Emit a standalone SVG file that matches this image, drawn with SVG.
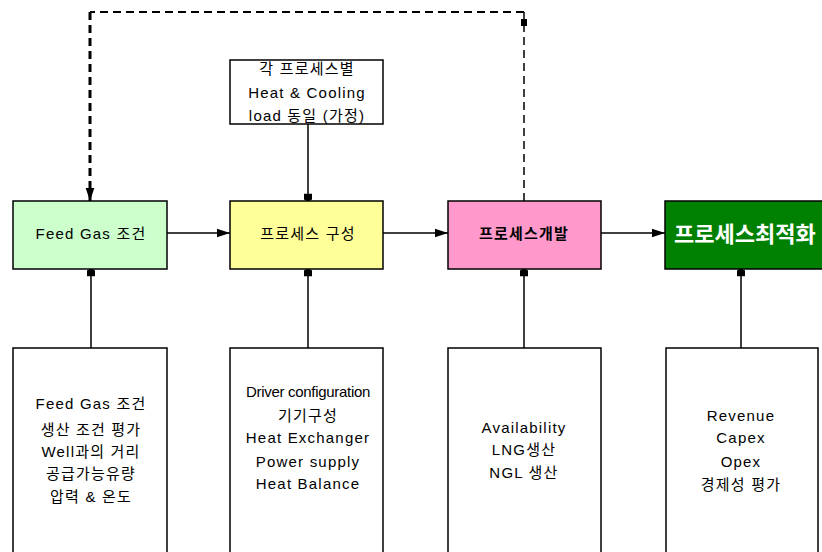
<svg xmlns="http://www.w3.org/2000/svg" width="822" height="552" viewBox="0 0 822 552">
<defs>
<style>
.box{stroke:#000;stroke-width:1.5}
.t{font-family:"Liberation Sans","Noto Sans CJK KR",sans-serif;font-size:15px;letter-spacing:1.2px;fill:#000;text-anchor:middle}
.c{stroke:#000;stroke-width:1.5;fill:none}
.d{stroke:#000;fill:none;stroke-dasharray:8 5}
</style>
<marker id="ah" viewBox="0 0 12 10" refX="12" refY="5" markerWidth="13" markerHeight="11" markerUnits="userSpaceOnUse" orient="auto">
<path d="M0,1 L12,5 L0,9 Z" fill="#000"/>
</marker>
<marker id="sq" viewBox="0 0 10 10" refX="9" refY="5" markerWidth="9" markerHeight="8" markerUnits="userSpaceOnUse" orient="auto">
<path d="M0,0 L7,0 L10,5 L7,10 L0,10 Z" fill="#000"/>
</marker>
</defs>
<rect width="822" height="552" fill="#fff"/>

<g id="connectors">
<line class="c" x1="167" y1="233" x2="230" y2="233" marker-end="url(#ah)"/>
<line class="c" x1="383" y1="233" x2="448" y2="233" marker-end="url(#ah)"/>
<line class="c" x1="601" y1="233" x2="665" y2="233" marker-end="url(#ah)"/>
<line class="c" x1="308" y1="124" x2="308" y2="201" marker-end="url(#sq)"/>
<line class="c" x1="91" y1="348" x2="91" y2="269" marker-end="url(#sq)"/>
<line class="c" x1="308" y1="348" x2="308" y2="269" marker-end="url(#sq)"/>
<line class="c" x1="524" y1="348" x2="524" y2="269" marker-end="url(#sq)"/>
<line class="c" x1="741" y1="348" x2="741" y2="269" marker-end="url(#sq)"/>
<path class="d" d="M524,201 L524,12" stroke-width="1.5"/>
<rect x="521" y="19" width="6" height="7" fill="#000"/>
<path class="d" d="M524,12 L90,12" stroke-width="2"/>
<path class="d" d="M90,12 L90,201" stroke-width="3" marker-end="url(#ah)"/>
</g>

<g id="heat-load">
<rect class="box" x="230" y="60" width="153" height="64" fill="#fff"/>
<text class="t" x="307" y="74">각 프로세스별</text>
<text class="t" x="307" y="98">Heat &amp; Cooling</text>
<text class="t" x="307" y="121">load 동일 (가정)</text>
</g>

<g id="feed-gas">
<rect class="box" x="13" y="201" width="154" height="68" fill="#ccffcc"/>
<text class="t" x="91" y="239">Feed Gas 조건</text>
</g>
<g id="process-config">
<rect class="box" x="230" y="201" width="153" height="68" fill="#ffff99"/>
<text class="t" x="308" y="239">프로세스 구성</text>
</g>
<g id="process-dev">
<rect class="box" x="448" y="201" width="153" height="68" fill="#ff99cc"/>
<text class="t" x="524" y="239" style="font-weight:bold">프로세스개발</text>
</g>
<g id="process-opt">
<rect class="box" x="665" y="201" width="170" height="68" fill="#008000"/>
<text class="t" x="674" y="242" style="font-size:22px;font-weight:bold;letter-spacing:0px;fill:#fff;text-anchor:start">프로세스최적화</text>
</g>

<g id="feed-detail">
<rect class="box" x="13" y="348" width="154" height="220" fill="#fff"/>
<text class="t" x="91" y="409">Feed Gas 조건</text>
<text class="t" x="91" y="435">생산 조건 평가</text>
<text class="t" x="91" y="457">Well과의 거리</text>
<text class="t" x="91" y="479">공급가능유량</text>
<text class="t" x="91" y="502">압력 &amp; 온도</text>
</g>
<g id="config-detail">
<rect class="box" x="230" y="348" width="153" height="220" fill="#fff"/>
<text class="t" x="308" y="397" style="letter-spacing:-0.3px">Driver configuration</text>
<text class="t" x="308" y="421">기기구성</text>
<text class="t" x="308" y="443">Heat Exchanger</text>
<text class="t" x="308" y="467">Power supply</text>
<text class="t" x="308" y="489">Heat Balance</text>
</g>
<g id="dev-detail">
<rect class="box" x="448" y="348" width="153" height="220" fill="#fff"/>
<text class="t" x="524" y="433">Availability</text>
<text class="t" x="524" y="455">LNG생산</text>
<text class="t" x="524" y="478">NGL 생산</text>
</g>
<g id="opt-detail">
<rect class="box" x="666" y="348" width="152" height="220" fill="#fff"/>
<text class="t" x="741" y="421">Revenue</text>
<text class="t" x="741" y="443">Capex</text>
<text class="t" x="741" y="467">Opex</text>
<text class="t" x="741" y="490">경제성 평가</text>
</g>
</svg>
